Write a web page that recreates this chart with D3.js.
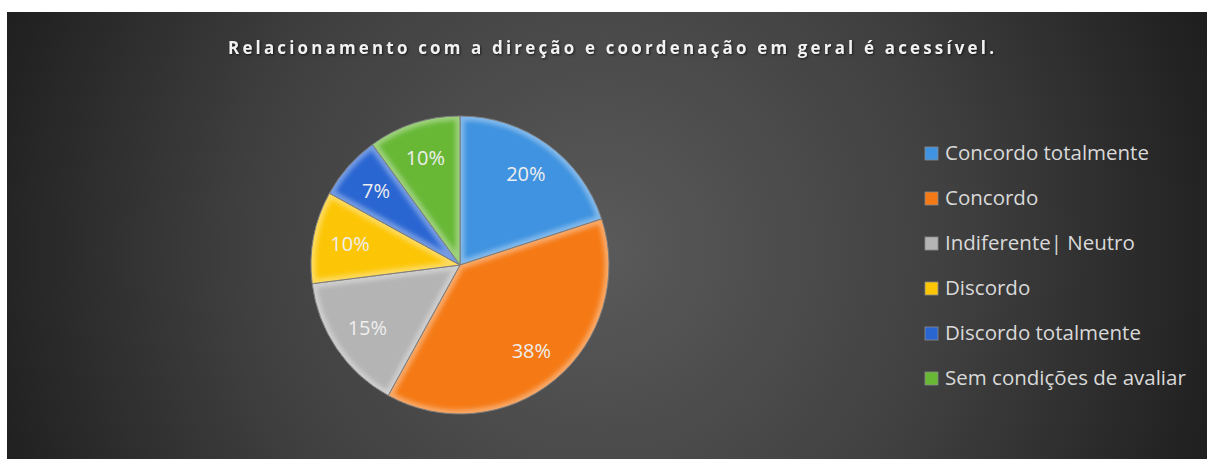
<!DOCTYPE html>
<html>
<head>
<meta charset="utf-8">
<script src="https://cdn.jsdelivr.net/npm/d3@7"></script>
<style>
  body { margin: 0; background: #ffffff; }
  svg { display: block; }
</style>
</head>
<body>
<div id="chart"></div>
<script>
// Chart data
const categories = ["Concordo totalmente", "Concordo", "Indiferente| Neutro", "Discordo", "Discordo totalmente", "Sem condições de avaliar"];
const values = [20, 38, 15, 10, 7, 10];
const colors = ["#3f93e0", "#f57a16", "#b4b4b4", "#fcc607", "#2a66d2", "#68b836"];
const title = "Relacionamento com a direção e coordenação em geral é acessível.";

const width = 1207, height = 461;
const svg = d3.select("#chart").append("svg")
    .attr("width", width)
    .attr("height", height);

const defs = svg.append("defs");

// background radial gradient
const bg = defs.append("radialGradient")
    .attr("id", "bg")
    .attr("gradientUnits", "userSpaceOnUse")
    .attr("cx", 600).attr("cy", 250).attr("r", 640);
bg.append("stop").attr("offset", "0").attr("stop-color", "#5a5a5a");
bg.append("stop").attr("offset", "0.55").attr("stop-color", "#404040");
bg.append("stop").attr("offset", "1").attr("stop-color", "#1f1f1f");

svg.append("rect")
    .attr("x", 7).attr("y", 12)
    .attr("width", 1200).attr("height", 447)
    .attr("fill", "url(#bg)");

// title
svg.append("text")
    .attr("x", 611).attr("y", 54)
    .attr("text-anchor", "middle")
    .attr("font-family", "'Open Sans', sans-serif")
    .attr("font-weight", "bold")
    .attr("font-size", 17)
    .attr("fill", "#f2f2f2")
    .attr("textLength", 766)
    .attr("lengthAdjust", "spacing")
    .style("filter", "drop-shadow(1px 1px 1px rgba(0,0,0,0.6))")
    .text(title);

// soft blur used for the bevel highlight
defs.append("filter").attr("id", "soft")
    .append("feGaussianBlur").attr("stdDeviation", 2);

// pie
const cx = 460, cy = 265, radius = 149;
const pie = d3.pie().sort(null).value(d => d);
const arcs = pie(values);
const arc = d3.arc().innerRadius(0).outerRadius(radius);
const labelArc = d3.arc().innerRadius(112).outerRadius(112);

const g = svg.append("g").attr("transform", `translate(${cx},${cy})`);

defs.selectAll("clipPath.sliceClip")
    .data(arcs)
    .join("clipPath")
    .attr("class", "sliceClip")
    .attr("id", (d, i) => "clip" + i)
    .append("path")
    .attr("d", arc);

const slices = g.selectAll("g.slice")
    .data(arcs)
    .join("g")
    .attr("class", "slice");

slices.append("path")
    .attr("d", arc)
    .attr("fill", (d, i) => colors[i]);

// bevel: light edge glow clipped inside each slice
slices.append("path")
    .attr("d", arc)
    .attr("fill", "none")
    .attr("stroke", "#ffffff")
    .attr("stroke-opacity", 0.35)
    .attr("stroke-width", 9)
    .attr("clip-path", (d, i) => `url(#clip${i})`)
    .attr("filter", "url(#soft)");

slices.append("path")
    .attr("d", arc)
    .attr("fill", "none")
    .attr("stroke", "#7d7d7d")
    .attr("stroke-width", 1);

g.selectAll("text.pct")
    .data(arcs)
    .join("text")
    .attr("class", "pct")
    .attr("transform", d => `translate(${labelArc.centroid(d)})`)
    .attr("text-anchor", "middle")
    .attr("dy", "0.35em")
    .attr("font-family", "'Open Sans', sans-serif")
    .attr("font-size", 20)
    .attr("fill", "#eeeeee")
    .text(d => d.data + "%");

// legend
const legend = svg.append("g").attr("transform", "translate(925,153)");
const item = legend.selectAll("g")
    .data(categories)
    .join("g")
    .attr("transform", (d, i) => `translate(0,${i * 45})`);

item.append("rect")
    .attr("x", 0).attr("y", -6)
    .attr("width", 13).attr("height", 13)
    .attr("fill", (d, i) => colors[i])
    .attr("stroke", "#8a8a8a")
    .attr("stroke-width", 0.8);

item.append("text")
    .attr("x", 20).attr("y", 0)
    .attr("dy", "0.35em")
    .attr("font-family", "'Open Sans', sans-serif")
    .attr("font-size", 20.5)
    .attr("fill", "#d9d9d9")
    .text(d => d);
</script>
</body>
</html>
